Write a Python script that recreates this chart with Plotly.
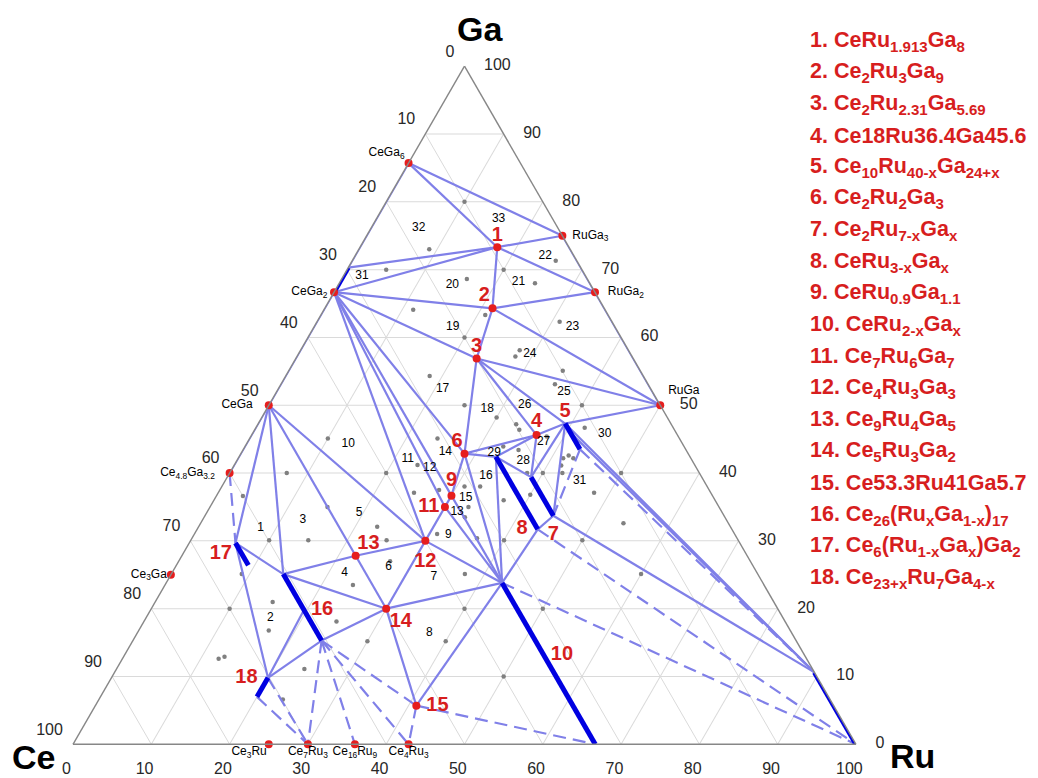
import plotly.graph_objects as go

# ------------------------------------------------------------------ data
# phase nodes: Ru and Ga in at.% (Ce = 100 - Ru - Ga)
node_names = ["CeGa6", "RuGa3", "CeGa2", "CeGa2ss", "RuGa2", "RuGa", "CeGa", "Ce4.8Ga3.2", "Ce3Ga",
              "Ce3Ru", "Ce7Ru3", "Ce16Ru9", "Ce4Ru3", "Ru", "RuSS",
              "P1", "P2", "P3", "P4", "P5a", "P5m", "P5b", "P6", "P7a", "P7b", "P8a", "P8b",
              "P9", "P10a", "P10b", "P11", "P12", "P13", "P14", "P15",
              "P16a", "P16m", "P16b", "P17a", "P17m", "P17b", "P18a", "P18b", "P10L"]
node_ru = [0, 25, 0, 0, 33.33, 50, 0, 0, 0,
           25, 30, 36, 42.86, 100, 89.4,
           17.53, 21.43, 23.1, 36.4, 39.2, 40.5, 43.0, 28.57, 38.8, 44.5, 32.8, 43.5,
           30.0, 42.9, 66.7, 30, 30, 22.2, 30, 41,
           14.3, 19.6, 24.1, 5.9, 7.55, 9.2, 20, 20, 53.5]
node_ga = [85.71, 75, 66.67, 70.3, 66.67, 50, 50, 40, 25,
           0, 0, 0, 0, 0, 10.6,
           73.31, 64.29, 56.9, 45.6, 47.3, 46.0, 43.5, 42.86, 39.4, 33.7, 42.4, 31.7,
           36.67, 23.8, 0, 35, 30, 27.8, 20, 5.7,
           25.1, 19.8, 15.3, 29.7, 28.05, 26.4, 9.8, 7.0, 13.2]

solid_pairs = [
    ("CeGa6", "CeGa2ss"), ("CeGa2", "CeGa"), ("CeGa", "Ce4.8Ga3.2"), ("RuGa3", "RuGa2"), ("RuGa2", "RuGa"),
    ("CeGa6", "RuGa3"), ("CeGa6", "P1"), ("P1", "RuGa3"), ("CeGa2ss", "P1"), ("CeGa2", "P1"), ("P1", "RuGa2"),
    ("P1", "P2"), ("CeGa2", "P2"), ("P2", "RuGa2"), ("P2", "P3"), ("P2", "RuGa"), ("CeGa2", "P3"),
    ("P3", "RuGa"), ("P3", "P5a"), ("P3", "P4"), ("P3", "P6"), ("P5a", "RuGa"), ("P4", "P5a"),
    ("P6", "P4"), ("P6", "P8a"), ("P8a", "P4"), ("P4", "P7a"), ("P5a", "P7a"), ("P8a", "P7a"),
    ("P5a", "P7b"), ("P5a", "RuSS"), ("P5m", "RuSS"), ("P7b", "RuSS"), ("P8b", "P7b"), ("P8b", "P10a"),
    ("P8a", "P10a"), ("P6", "P10a"), ("P6", "P9"), ("P9", "P11"), ("P11", "P12"), ("P9", "P10a"),
    ("P11", "P10a"), ("P12", "P10a"), ("CeGa2", "P6"), ("CeGa2", "P9"), ("CeGa2", "P11"), ("CeGa2", "P12"),
    ("CeGa", "P12"), ("CeGa", "P13"), ("CeGa", "P16a"), ("CeGa", "P17a"), ("P13", "P12"), ("P13", "P14"),
    ("P13", "P16a"), ("P12", "P14"), ("P14", "P10a"), ("P14", "P15"), ("P15", "P10a"), ("P14", "P16a"),
    ("P14", "P16b"), ("P17a", "P16a"), ("P17a", "P18a"), ("P18a", "P16m"), ("P18a", "P16b"),
]
dashed_pairs = [
    ("Ce4.8Ga3.2", "P17a"), ("P18a", "Ce7Ru3"), ("P18b", "Ce7Ru3"), ("P16b", "Ce7Ru3"), ("P16b", "Ce16Ru9"),
    ("P16b", "Ce4Ru3"), ("P16b", "P15"), ("P15", "Ce4Ru3"), ("P15", "P10b"), ("P10a", "Ru"), ("P8b", "Ru"),
    ("P5b", "P7b"), ("P5b", "RuSS"),
]
thick_pairs = [("CeGa2ss", "CeGa2"), ("RuSS", "Ru"), ("P5a", "P5b"), ("P7a", "P7b"), ("P8a", "P8b"),
               ("P10a", "P10b"), ("P16a", "P16b"), ("P17a", "P17b"), ("P18a", "P18b")]

red_dot_nodes = ["CeGa6", "RuGa3", "CeGa2", "RuGa2", "RuGa", "CeGa", "Ce4.8Ga3.2", "Ce3Ga",
                 "Ce3Ru", "Ce7Ru3", "Ce16Ru9", "Ce4Ru3",
                 "P1", "P2", "P3", "P4", "P6", "P9", "P11", "P12", "P13", "P14", "P15"]

compound_nodes = ["CeGa6", "RuGa3", "CeGa2", "RuGa2", "RuGa", "CeGa", "Ce4.8Ga3.2", "Ce3Ga",
                  "Ce3Ru", "Ce7Ru3", "Ce16Ru9", "Ce4Ru3"]
compound_text = ["CeGa<sub>6</sub>", "RuGa<sub>3</sub>", "CeGa<sub>2</sub>", "RuGa<sub>2</sub>", "RuGa", "CeGa",
                 "Ce<sub>4.8</sub>Ga<sub>3.2</sub>", "Ce<sub>3</sub>Ga",
                 "Ce<sub>3</sub>Ru", "Ce<sub>7</sub>Ru<sub>3</sub>", "Ce<sub>16</sub>Ru<sub>9</sub>",
                 "Ce<sub>4</sub>Ru<sub>3</sub>"]

phase_label_text = [str(i) for i in range(1, 19)]
phase_label_nodes = ["P1", "P2", "P3", "P4", "P5a", "P6", "P7b", "P8b", "P9", "P10L",
                     "P11", "P12", "P13", "P14", "P15", "P16m", "P17m", "P18a"]

legend_formulas = [
    "CeRu<sub>1.913</sub>Ga<sub>8</sub>", "Ce<sub>2</sub>Ru<sub>3</sub>Ga<sub>9</sub>",
    "Ce<sub>2</sub>Ru<sub>2.31</sub>Ga<sub>5.69</sub>", "Ce18Ru36.4Ga45.6",
    "Ce<sub>10</sub>Ru<sub>40-x</sub>Ga<sub>24+x</sub>", "Ce<sub>2</sub>Ru<sub>2</sub>Ga<sub>3</sub>",
    "Ce<sub>2</sub>Ru<sub>7-x</sub>Ga<sub>x</sub>", "CeRu<sub>3-x</sub>Ga<sub>x</sub>",
    "CeRu<sub>0.9</sub>Ga<sub>1.1</sub>", "CeRu<sub>2-x</sub>Ga<sub>x</sub>",
    "Ce<sub>7</sub>Ru<sub>6</sub>Ga<sub>7</sub>", "Ce<sub>4</sub>Ru<sub>3</sub>Ga<sub>3</sub>",
    "Ce<sub>9</sub>Ru<sub>4</sub>Ga<sub>5</sub>", "Ce<sub>5</sub>Ru<sub>3</sub>Ga<sub>2</sub>",
    "Ce53.3Ru41Ga5.7", "Ce<sub>26</sub>(Ru<sub>x</sub>Ga<sub>1-x</sub>)<sub>17</sub>",
    "Ce<sub>6</sub>(Ru<sub>1-x</sub>Ga<sub>x</sub>)Ga<sub>2</sub>", "Ce<sub>23+x</sub>Ru<sub>7</sub>Ga<sub>4-x</sub>",
]

# region numbers (Ru, Ga)
region_text = ["33", "32", "22", "31", "20", "21", "19", "23", "24", "25", "17", "18", "26", "30", "14",
               "27", "29", "28", "16", "31", "11", "12", "15", "13", "9", "10", "1", "3", "5", "6", "4",
               "7", "8", "2"]
region_ru = [15.6, 6.1, 24.3, 2.4, 14.6, 22.8, 17.7, 33.0, 29.6, 36.7, 21.0, 28.2, 32.7, 45.0, 26.0,
             37.8, 32.3, 36.6, 33.0, 45.3, 21.7, 25.2, 32.0, 31.9, 32.5, 13.0, 8.0, 12.8, 19.5, 27.2, 22.1,
             33.8, 37.3, 15.9]
region_ga = [77.5, 76.1, 72.0, 69.0, 67.7, 68.2, 61.6, 61.6, 57.5, 52.0, 52.4, 49.4, 50.0, 45.8, 43.1,
             44.6, 43.0, 41.8, 39.5, 38.8, 42.1, 40.7, 36.3, 34.3, 30.9, 44.3, 31.9, 33.1, 34.1, 26.2, 25.2,
             24.6, 16.4, 18.6]

# sample compositions (gray dots)
dot_ru = [10, 9, 5, 16, 20, 25, 26, 11.4, 21, 31,
          20, 28, 27.9, 35, 18.4, 35, 40, 25, 30, 33,
          33.8, 42, 24, 33, 37.8, 42, 41.5, 42.8, 35.2, 23.4,
          33, 38, 40, 42.5, 50, 25, 28, 31, 33, 37,
          40, 48, 31, 36.4, 40, 50, 54, 33.3, 37.5,
          10, 7.3, 20, 3.4, 15, 22.8, 10, 15, 25, 27,
          9, 15, 10, 16.6, 12.3, 12.9, 24, 24.6, 24, 30,
          40, 40, 23.5, 50, 50, 60, 41.8]
dot_ga = [80, 73, 70, 68.6, 70, 68, 71.3, 64.1, 63.3, 62.3,
          60, 58.1, 57.2, 55.1, 54.3, 53.1, 50, 50, 48.2, 47.2,
          46.4, 46.7, 45.1, 43.9, 45.4, 42.6, 42.2, 42.2, 43.4, 41.2,
          38, 40, 40, 40, 40, 37.1, 37.5, 38, 35, 36,
          36.8, 37.1, 31, 30.4, 30.1, 30.1, 32.6, 33.5, 25.1,
          45.1, 40, 40, 36.6, 35, 32.1, 30.1, 30.1, 30.1, 27,
          25.1, 21, 20, 16.8, 12.6, 12.9, 11.1, 18.1, 23.5, 15.2,
          15.2, 20, 6.6, 20, 10, 25.1, 41.1]

tick_values = list(range(0, 101, 10))

# ------------------------------------------------------------------ styles
FONT = "Liberation Sans, Arial, sans-serif"
TIE = "rgb(128,128,232)"
THICK = "rgb(0,0,225)"
RED = "rgb(230,30,30)"
LABEL_RED = "rgb(215,30,30)"
CLEAR = dict(color="rgba(0,0,0,0)", line=dict(width=0))

compound_pos = ["top left", "middle right", "middle left", "middle right", "top right", "middle left",
                "middle left", "middle left", "bottom left", "bottom center", "bottom center", "bottom center"]
compound_gap = [4.8, 14.4, 9, 19, 11, 24, 22, 4.8, 1.6, 1.6, 1.6, 1.6]

phase_pos = ["top center", "top left", "top center", "top center", "top center", "top left",
             "bottom center", "middle left", "top center", "middle right", "middle left", "bottom center",
             "top right", "bottom right", "middle right", "middle right", "middle left", "middle left"]
phase_gap = [1, 2.7, 1, 3.2, 0.5, 1.6, 12.5, 14.4, 5.1, 10, 7.4, 16.8, 1, 4, 14.4, 9.6, 14.4, 15]

idx = {n: i for i, n in enumerate(node_names)}


def abc(names):
    a = [node_ga[idx[n]] for n in names]
    c = [node_ru[idx[n]] for n in names]
    b = [100 - x - y for x, y in zip(a, c)]
    return a, b, c


def segs(pairs):
    a, b, c = [], [], []
    for p, q in pairs:
        aa, bb, cc = abc([p, q])
        a += aa + [None]
        b += bb + [None]
        c += cc + [None]
    return a, b, c


fig = go.Figure()

# gray sample dots
fig.add_trace(go.Scatterternary(
    a=dot_ga, c=dot_ru, b=[100 - x - y for x, y in zip(dot_ga, dot_ru)],
    mode="markers", marker=dict(size=4.5, color="rgb(128,128,128)", line=dict(width=0)), hoverinfo="skip"))

# tie lines
a, b, c = segs(solid_pairs)
fig.add_trace(go.Scatterternary(a=a, b=b, c=c, mode="lines",
                                line=dict(color=TIE, width=2.2), hoverinfo="skip"))
a, b, c = segs(dashed_pairs)
fig.add_trace(go.Scatterternary(a=a, b=b, c=c, mode="lines",
                                line=dict(color=TIE, width=2.2, dash="13px,7px"), hoverinfo="skip"))
a, b, c = segs(thick_pairs)
fig.add_trace(go.Scatterternary(a=a, b=b, c=c, mode="lines", cliponaxis=False,
                                line=dict(color=THICK, width=5), hoverinfo="skip"))

# red phase dots
a, b, c = abc(red_dot_nodes)
fig.add_trace(go.Scatterternary(a=a, b=b, c=c, mode="markers", cliponaxis=False,
                                marker=dict(size=8, color=RED, line=dict(width=0)), hoverinfo="skip"))

# compound labels
a, b, c = abc(compound_nodes)
fig.add_trace(go.Scatterternary(
    a=a, b=b, c=c, mode="markers+text", text=compound_text, textposition=compound_pos,
    marker=dict(size=compound_gap, **CLEAR),
    textfont=dict(family=FONT, size=12, color="black"), cliponaxis=False, hoverinfo="skip"))

# phase number labels
a, b, c = abc(phase_label_nodes)
fig.add_trace(go.Scatterternary(
    a=a, b=b, c=c, mode="markers+text", text=phase_label_text, textposition=phase_pos,
    marker=dict(size=phase_gap, **CLEAR),
    textfont=dict(family=FONT, size=20, color=LABEL_RED, weight="bold"), cliponaxis=False,
    hoverinfo="skip"))

# region numbers
fig.add_trace(go.Scatterternary(
    a=region_ga, c=region_ru, b=[100 - x - y for x, y in zip(region_ga, region_ru)],
    mode="text", text=region_text, textposition="middle center",
    textfont=dict(family=FONT, size=12, color="black"), cliponaxis=False, hoverinfo="skip"))

# tick labels: left edge = at.% Ce, bottom = at.% Ru, right = at.% Ga
tick_font = dict(family=FONT, size=16, color="rgb(40,40,40)")
fig.add_trace(go.Scatterternary(
    a=[100 - t for t in tick_values], b=tick_values, c=[0] * len(tick_values),
    mode="markers+text", text=[f"{t}\u00a0" for t in tick_values], textposition="top left",
    marker=dict(size=7.5, **CLEAR), textfont=tick_font, cliponaxis=False, hoverinfo="skip"))
fig.add_trace(go.Scatterternary(
    a=tick_values, b=[0] * len(tick_values), c=[100 - t for t in tick_values],
    mode="markers+text", text=[str(t) for t in tick_values], textposition="middle right",
    marker=dict(size=29.6, **CLEAR), textfont=tick_font, cliponaxis=False, hoverinfo="skip"))
fig.add_trace(go.Scatterternary(
    a=[0] * len(tick_values), b=[100 - t for t in tick_values], c=tick_values,
    mode="markers+text", text=[f"{t}\u00a0\u00a0\u00a0" for t in tick_values], textposition="bottom center",
    marker=dict(size=27.2, **CLEAR), textfont=tick_font, cliponaxis=False, hoverinfo="skip"))

axis_style = dict(title=dict(text=""), showticklabels=False, ticks="", linecolor="rgb(135,135,135)",
                  linewidth=1.4, showgrid=True, gridcolor="rgb(218,218,218)", gridwidth=1,
                  tick0=0, dtick=10, min=0)

W, H = 1038, 778
annotations = []
# corner element names
for txt, x, y in [("Ga", 480, 29), ("Ce", 33, 757), ("Ru", 912, 756)]:
    annotations.append(dict(text=txt, x=x / W, y=1 - y / H, xref="paper", yref="paper",
                            xanchor="center", yanchor="middle", showarrow=False,
                            font=dict(family=FONT, size=34, color="black", weight="bold")))
# legend of ternary phases
for i, f in enumerate(legend_formulas):
    annotations.append(dict(text=f"{i + 1}. {f}", x=808 / W, y=1 - (41 + i * 31.6) / H,
                            xref="paper", yref="paper", xanchor="left", yanchor="middle",
                            showarrow=False, align="left",
                            font=dict(family=FONT, size=21.5, color=LABEL_RED, weight="bold")))

fig.update_layout(
    width=W, height=H, margin=dict(l=0, r=0, t=0, b=0),
    paper_bgcolor="white", showlegend=False, hovermode=False,
    ternary=dict(sum=100, bgcolor="white",
                 domain=dict(x=[73 / W, 856 / W], y=[(H - 744.5) / H, (H - 66) / H]),
                 aaxis=axis_style, baxis=axis_style, caxis=axis_style),
    annotations=annotations,
)

fig.write_html("out.html", config={"displayModeBar": False},
               post_script="document.body.style.margin='0';")
